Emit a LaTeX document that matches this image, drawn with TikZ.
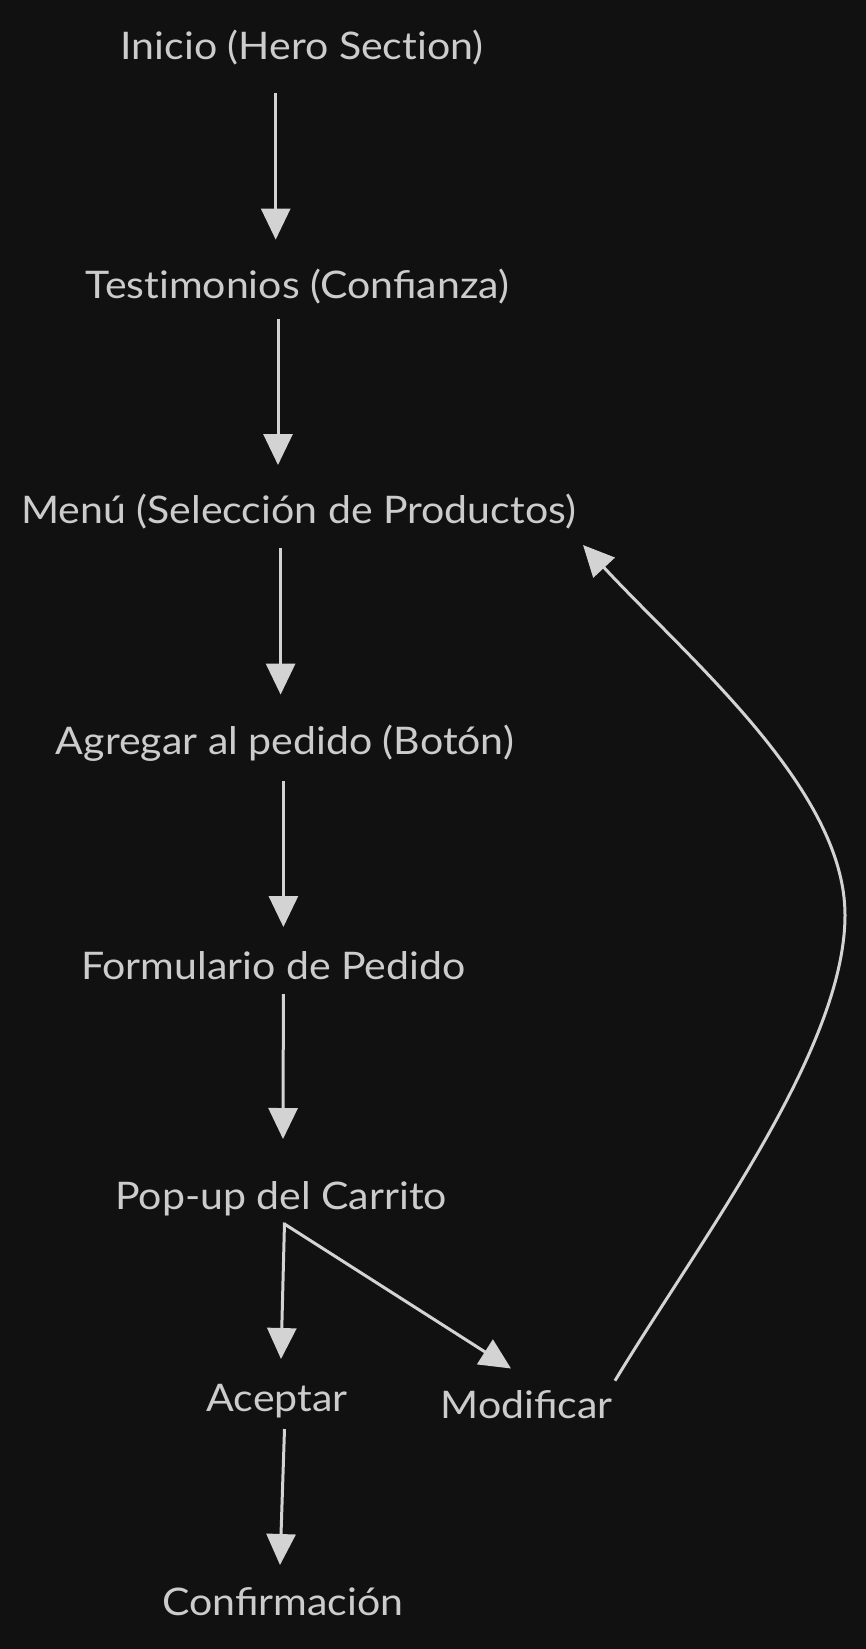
\documentclass[tikz,border=0pt]{standalone}
\usepackage{fontspec}
\setmainfont[FakeStretch=1.08]{Lato}
\usetikzlibrary{arrows.meta,calc}
\definecolor{bg}{HTML}{111111}
\definecolor{ln}{HTML}{D3D3D3}
\definecolor{tx}{HTML}{CCCCCC}
\newcommand{\tkn}{t\kern0pt i}
\tikzset{
  lbl/.style={inner sep=0pt, anchor=base, text=tx, font=\fontsize{38}{40}\selectfont},
  arr/.style={draw=ln, line width=3pt, -{Triangle[length=31pt,width=29pt]}},
}
\begin{document}
\begin{tikzpicture}[x=1pt,y=-1pt]
\path[fill=bg] (0,0) rectangle (866,1649);
\useasboundingbox (0,0) rectangle (866,1649);
\node[lbl] (I) at (302,59.6) {Inicio (Hero Sec\tkn on)};
\node[lbl] (T) at (297.5,298.3) {Tes\tkn monios (Confianza)};
\node[lbl] (M) at (298.5,523) {Menú (Selección de Productos)};
\node[lbl] (A) at (285,754.6) {Agregar al pedido (Botón)};
\node[lbl] (F) at (273.4,979.7) {Formulario de Pedido};
\node[lbl] (P) at (281,1209) {Pop-up del Carrito};
\node[lbl] (Ac) at (277,1411) {Aceptar};
\node[lbl] (Mo) at (526.5,1418) {Modificar};
\node[lbl] (C) at (283,1615) {Confirmación};
\coordinate (bend) at (845,915);
\draw[arr] ($(I.base)+(-26.3,33.4)$) -- ($(T.base)+(-21.8,-58.7)$);
\draw[arr] ($(T.base)+(-19.5,20.7)$) -- ($(M.base)+(-20.5,-58)$);
\draw[arr] ($(M.base)+(-17.9,25.4)$) -- ($(A.base)+(-4.4,-60)$);
\draw[arr] ($(A.base)+(-1.6,26.8)$) -- ($(F.base)+(10,-52.7)$);
\draw[arr] ($(F.base)+(10,14.3)$) -- ($(P.base)+(2,-70)$);
\draw[arr] ($(P.base)+(3.5,13.5)$) -- ($(Ac.base)+(4,-52)$);
\draw[arr] ($(P.base)+(3.5,15)$) -- ($(Mo.base)+(-15.5,-49.5)$);
\draw[arr] ($(Ac.base)+(7.5,18)$) -- ($(C.base)+(-3,-50)$);
\draw[arr] ($(Mo.base)+(88.5,-37.3)$) .. controls (700,1240) and (845,1050) .. (bend)
  .. controls (845,790) and (690,660) .. ($(M.base)+(284.5,22)$);
\end{tikzpicture}
\end{document}
